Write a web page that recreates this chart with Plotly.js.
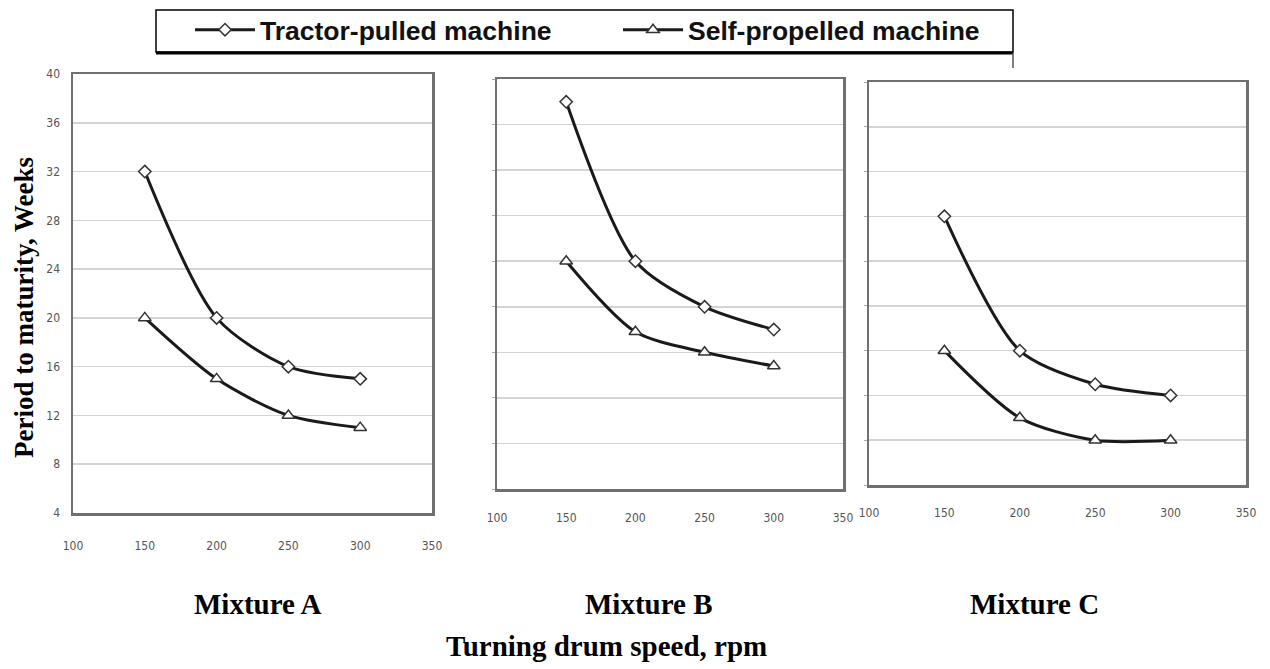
<!DOCTYPE html>
<html>
<head>
<meta charset="utf-8">
<script src="https://cdn.plot.ly/plotly-3.0.1.min.js"></script>
<style>html,body{margin:0;padding:0;background:#fff}#chart{width:1270px;height:669px}</style>
</head>
<body>
<div id="chart"></div>
<script>
// ---- data ----
var speeds = [150, 200, 250, 300];
var tractorA = [32, 20, 16, 15];
var selfA = [20, 15, 12, 11];
var tractorB = [38, 24, 20, 18];
var selfB = [24, 17.8, 16, 14.8];
var tractorC = [28, 16, 13, 12];
var selfC = [16, 10, 8, 8];
var seriesNames = ['Tractor-pulled machine', 'Self-propelled machine'];
var panelNames = ['Mixture A', 'Mixture B', 'Mixture C'];
var xTitle = 'Turning drum speed, rpm';
var yTitle = 'Period to maturity, Weeks';
var xTicks = [100, 150, 200, 250, 300, 350];
var yTicks = [4, 8, 12, 16, 20, 24, 28, 32, 36, 40];

var W = 1270, H = 669;
function px(v){ return v / W; }
function py(v){ return 1 - v / H; }

var tractor = [tractorA, tractorB, tractorC];
var selfp = [selfA, selfB, selfC];
var traces = [];
for (var i = 0; i < 3; i++) {
  var xa = i === 0 ? 'x' : 'x' + (i + 1);
  var ya = i === 0 ? 'y' : 'y' + (i + 1);
  traces.push({
    x: speeds, y: tractor[i], xaxis: xa, yaxis: ya, type: 'scatter', mode: 'lines+markers',
    name: seriesNames[0], legendgroup: 't', showlegend: i === 0,
    line: {color: '#1a1a1a', width: 3, shape: 'spline', smoothing: 0.8},
    marker: {symbol: 'diamond', size: 9.5, color: '#ffffff', line: {color: '#333', width: 1.5}}
  });
  traces.push({
    x: speeds, y: selfp[i], xaxis: xa, yaxis: ya, type: 'scatter', mode: 'lines+markers',
    name: seriesNames[1], legendgroup: 's', showlegend: i === 0,
    line: {color: '#1a1a1a', width: 3, shape: 'spline', smoothing: 0.8},
    marker: {symbol: 'triangle-up', size: 11, color: '#ffffff', line: {color: '#333', width: 1.5}}
  });
}

var tickFont = {family: 'Liberation Sans Narrow, Arial Narrow, DejaVu Sans Condensed, sans-serif', size: 12, color: '#555'};
function xAxis(dom, anchor, standoff){
  return {domain: dom, anchor: anchor, range: [100, 350], tickvals: xTicks, ticktext: xTicks.map(String),
    showline: true, mirror: true, linecolor: '#707070', linewidth: 2.5, showgrid: false, zeroline: false,
    ticks: '', tickfont: tickFont, ticklabelstandoff: standoff};
}
function yAxis(dom, anchor, labels){
  return {domain: dom, anchor: anchor, range: [4, 40], tickvals: yTicks, ticktext: yTicks.map(String),
    showline: true, mirror: true, linecolor: '#707070', linewidth: 2.5, showgrid: true, gridcolor: '#d4d4d4', gridwidth: 1.5,
    zeroline: false, showticklabels: labels, ticks: labels ? '' : 'outside', ticklen: 3, tickcolor: '#aaa',
    tickfont: tickFont, ticklabelstandoff: 8};
}

var bigFont = {family: 'Liberation Serif, Times New Roman, serif', size: 29, color: '#000'};
var yFont = {family: 'Liberation Serif, Times New Roman, serif', size: 27, color: '#000'};
function ann(text, x, y, font, angle){
  return {text: '<b>' + text + '</b>', xref: 'paper', yref: 'paper', x: px(x), y: py(y),
    xanchor: 'center', yanchor: 'middle', showarrow: false, font: font, textangle: angle || 0};
}
var layout = {
  width: W, height: H, margin: {l: 0, r: 0, t: 0, b: 0},
  paper_bgcolor: '#fff', plot_bgcolor: '#fff',
  xaxis: xAxis([px(73), px(432)], 'y', 20),
  yaxis: yAxis([py(513), py(74)], 'x', true),
  xaxis2: xAxis([px(497), px(843)], 'y2', 16),
  yaxis2: yAxis([py(489), py(79)], 'x2', false),
  xaxis3: xAxis([px(869), px(1246)], 'y3', 15),
  yaxis3: yAxis([py(485), py(82)], 'x3', false),
  showlegend: true,
  legend: {orientation: 'h', x: px(190), xanchor: 'left', y: py(30), yanchor: 'middle',
    bgcolor: 'rgba(0,0,0,0)', borderwidth: 0, itemwidth: 60,
    entrywidth: 353, entrywidthmode: 'pixels',
    font: {family: 'Liberation Sans, Arial, sans-serif', size: 26.5, color: '#111', weight: 'bold'}},
  shapes: [
    {type: 'rect', xref: 'paper', yref: 'paper', x0: px(156), x1: px(1013), y0: py(52), y1: py(10),
      line: {color: '#000', width: 1.5}, fillcolor: 'rgba(0,0,0,0)'},
    {type: 'line', xref: 'paper', yref: 'paper', x0: px(156), x1: px(1013), y0: py(53), y1: py(53),
      line: {color: '#000', width: 3}},
    {type: 'line', xref: 'paper', yref: 'paper', x0: px(1013), x1: px(1013), y0: py(53), y1: py(68),
      line: {color: '#555', width: 1.5}}
  ],
  annotations: [
    ann(panelNames[0], 258, 604, bigFont),
    ann(panelNames[1], 649, 604, bigFont),
    ann(panelNames[2], 1034, 604, bigFont),
    ann(xTitle, 606, 646, bigFont),
    ann(yTitle, 24, 308, yFont, -90)
  ]
};

Plotly.newPlot('chart', traces, layout, {staticPlot: true, displayModeBar: false});
</script>
</body>
</html>
